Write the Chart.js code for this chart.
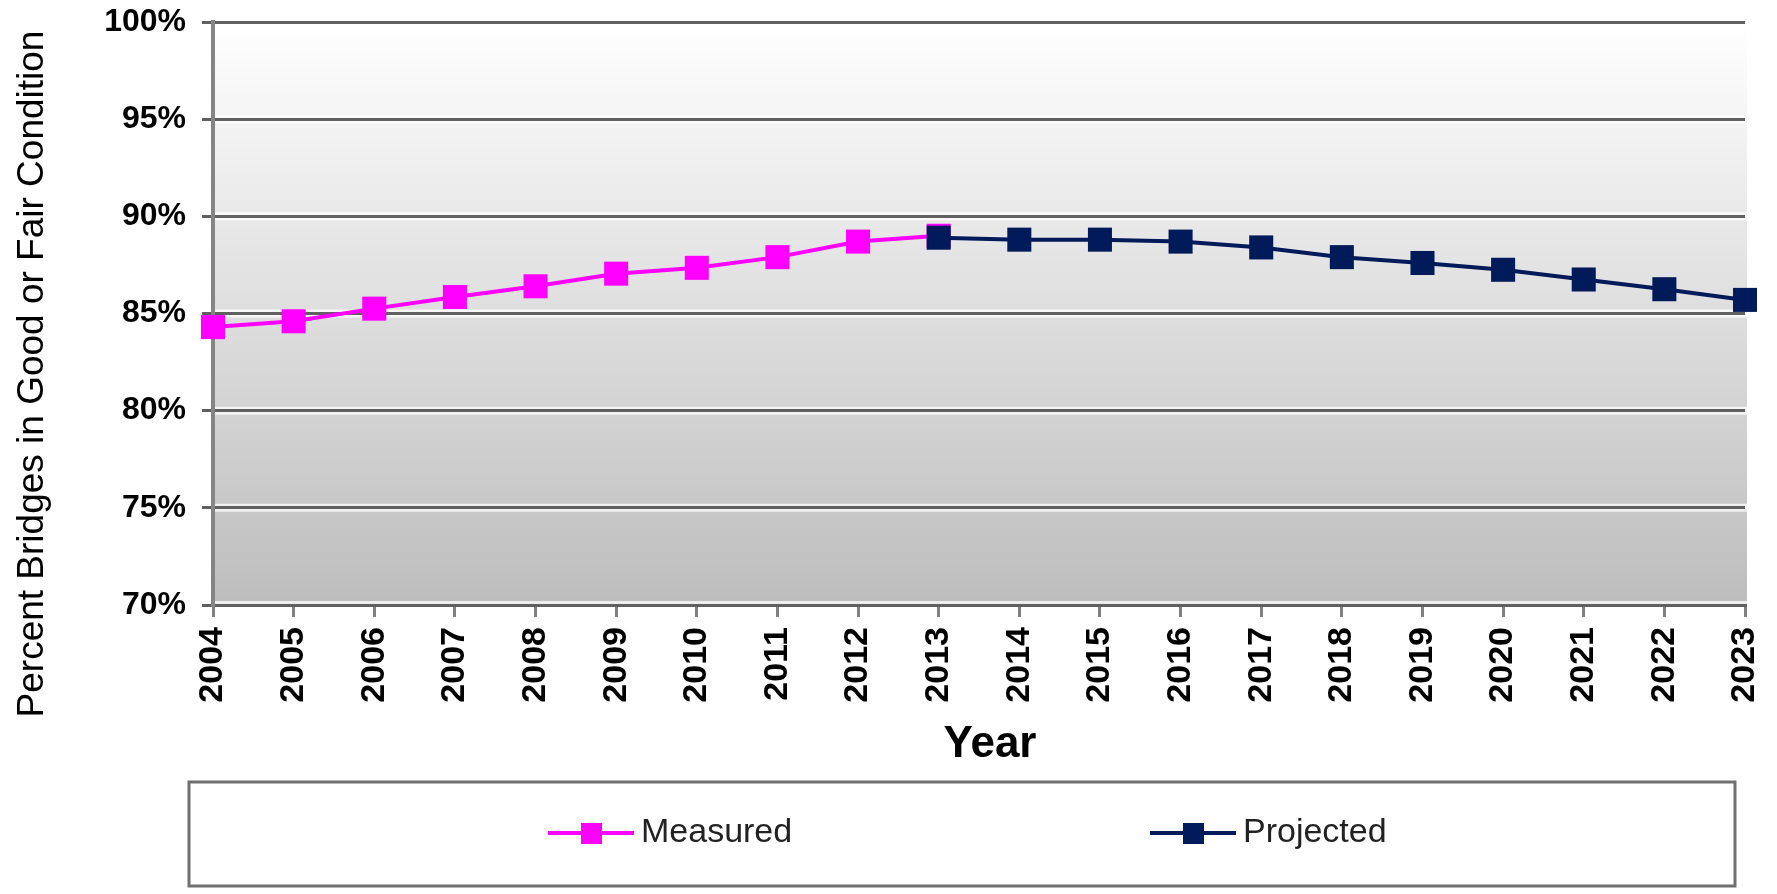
<!DOCTYPE html>
<html>
<head>
<meta charset="utf-8">
<script src="https://cdn.jsdelivr.net/npm/chart.js@4.4.0/dist/chart.umd.min.js"></script>
<style>
  html, body { margin: 0; padding: 0; background: #ffffff; }
  #wrap { width: 1777px; height: 894px; }
</style>
</head>
<body>
<div id="wrap"><canvas id="bridges"></canvas></div>
<script>
// years on the x axis
var years = ['2004','2005','2006','2007','2008','2009','2010','2011','2012','2013',
             '2014','2015','2016','2017','2018','2019','2020','2021','2022','2023'];
// measured share of bridges in good or fair condition (%)
var measured = [84.3, 84.6, 85.25, 85.85, 86.4, 87.05, 87.35, 87.9, 88.7, 89.0,
                null, null, null, null, null, null, null, null, null, null];
// projected share (%)
var projected = [null, null, null, null, null, null, null, null, null, 88.9,
                 88.8, 88.8, 88.7, 88.4, 87.9, 87.6, 87.25, 86.75, 86.25, 85.7];
var yTicks = [70, 75, 80, 85, 90, 95, 100];

var FONT = "'Liberation Sans', Arial, sans-serif";
var PINK = '#ff00ff';
var NAVY = '#001a5a';

// grey gradient behind the plot, with a light halo under each gridline
var plotBackground = {
	id: 'plotBackground',
	beforeDraw: function(chart) {
		var a = chart.chartArea;
		var ctx = chart.ctx;
		var g = ctx.createLinearGradient(0, a.top, 0, a.bottom);
		g.addColorStop(0, '#ffffff');
		g.addColorStop(1, '#bdbdbd');
		ctx.save();
		ctx.fillStyle = g;
		ctx.fillRect(a.left, a.top, a.right - a.left + 2, a.bottom - a.top);
		ctx.strokeStyle = 'rgba(255,255,255,0.75)';
		ctx.lineWidth = 8;
		var ys = chart.scales.y;
		yTicks.forEach(function(v) {
			var py = ys.getPixelForValue(v);
			ctx.beginPath();
			ctx.moveTo(a.left, py);
			ctx.lineTo(a.right + 2, py);
			ctx.stroke();
		});
		ctx.restore();
	}
};

// axis titles and boxed legend, drawn by hand
var decorations = {
	id: 'decorations',
	afterDraw: function(chart) {
		var ctx = chart.ctx;
		ctx.save();
		ctx.translate(33, 374);
		ctx.rotate(-Math.PI / 2);
		ctx.font = '37px ' + FONT;
		ctx.fillStyle = '#000';
		ctx.textAlign = 'center';
		ctx.textBaseline = 'middle';
		ctx.fillText('Percent Bridges in Good or Fair Condition', 0, 0);
		ctx.restore();

		ctx.save();
		ctx.font = 'bold 44px ' + FONT;
		ctx.fillStyle = '#000';
		ctx.textAlign = 'center';
		ctx.textBaseline = 'middle';
		ctx.fillText('Year', 990, 745);
		ctx.restore();

		// legend box
		ctx.save();
		ctx.strokeStyle = '#707070';
		ctx.lineWidth = 3;
		ctx.strokeRect(189, 782, 1546, 104);
		var items = [
			{ds: chart.data.datasets[0], x: 548},
			{ds: chart.data.datasets[1], x: 1150}
		];
		var cy = 833;
		items.forEach(function(it) {
			ctx.strokeStyle = it.ds.borderColor;
			ctx.lineWidth = 4;
			ctx.beginPath();
			ctx.moveTo(it.x, cy);
			ctx.lineTo(it.x + 86, cy);
			ctx.stroke();
			ctx.fillStyle = it.ds.borderColor;
			ctx.fillRect(it.x + 33, cy - 10, 21, 21);
			ctx.font = '34px ' + FONT;
			ctx.fillStyle = '#222';
			ctx.textAlign = 'left';
			ctx.textBaseline = 'middle';
			ctx.fillText(it.ds.label, it.x + 93, cy);
		});
		ctx.restore();
	}
};

var ctx = document.getElementById('bridges');
var myChart = new Chart(ctx, {
	type: 'line',
	data: {
		labels: years,
		datasets: [{
			label: 'Measured',
			data: measured,
			borderColor: PINK,
			backgroundColor: PINK,
			borderWidth: 4,
			pointStyle: 'rect',
			pointRadius: 17,
			pointBorderWidth: 0,
			tension: 0,
			order: 1
		}, {
			label: 'Projected',
			data: projected,
			borderColor: NAVY,
			backgroundColor: NAVY,
			borderWidth: 4,
			pointStyle: 'rect',
			pointRadius: 17,
			pointBorderWidth: 0,
			tension: 0,
			order: 0
		}]
	},
	options: {
		responsive: true,
		maintainAspectRatio: false,
		animation: false,
		events: [],
		layout: { padding: { left: 0, right: 32, top: 22, bottom: 124 } },
		plugins: {
			legend: { display: false },
			tooltip: { enabled: false }
		},
		scales: {
			x: {
				offset: false,
				grid: { drawOnChartArea: false, drawTicks: true, tickLength: 12, color: '#808080', lineWidth: 3 },
				border: { display: true, color: '#606060', width: 3 },
				ticks: {
					autoSkip: false, minRotation: 90, maxRotation: 90, padding: 10,
					color: '#000', font: { family: FONT, size: 34, weight: 'bold' }
				},
				afterFit: function(scale) {
					scale.height = 165;
					scale.paddingLeft = 0;
					scale.paddingRight = 0;
				}
			},
			y: {
				min: 70, max: 100,
				afterBuildTicks: function(scale) {
					scale.ticks = yTicks.map(function(v) { return {value: v}; });
				},
				grid: { color: '#606060', lineWidth: 3, tickLength: 11 },
				border: { display: true, color: '#858585', width: 4 },
				ticks: {
					padding: 16, color: '#000',
					font: { family: FONT, size: 32, weight: 'bold' },
					callback: function(v) { return v + '%'; }
				},
				afterFit: function(scale) {
					scale.width = 213;
					scale.paddingTop = 0;
					scale.paddingBottom = 0;
				}
			}
		}
	},
	plugins: [plotBackground, decorations]
});
</script>
</body>
</html>
